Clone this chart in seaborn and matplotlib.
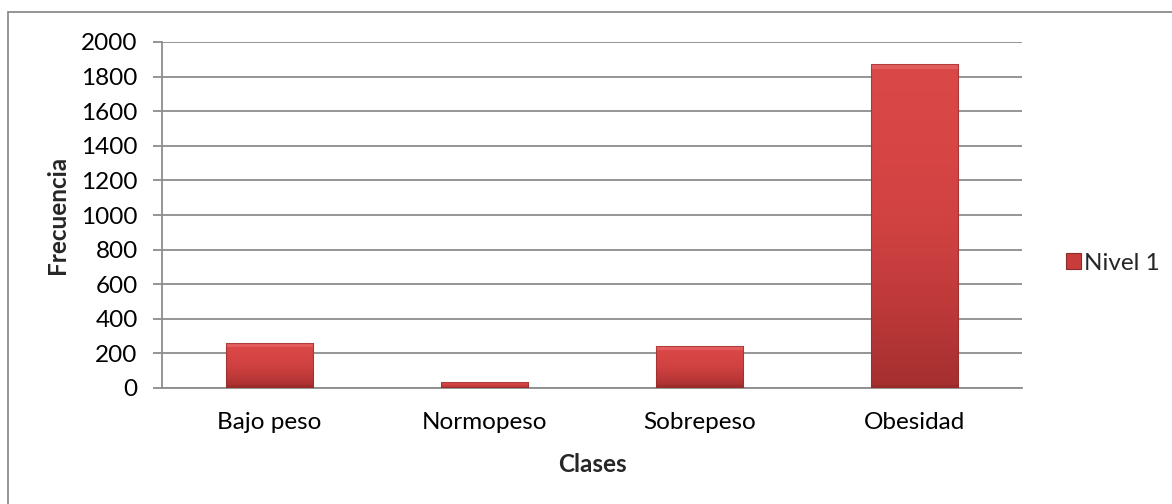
import numpy as np
import pandas as pd
import matplotlib
matplotlib.use("Agg")
import matplotlib.pyplot as plt
import seaborn as sns
from matplotlib.patches import Rectangle
from matplotlib.colors import LinearSegmentedColormap

clases = ["Bajo peso", "Normopeso", "Sobrepeso", "Obesidad"]
frecuencia = [260, 33, 245, 1870]
serie = "Nivel 1"
y_ticks = [0, 200, 400, 600, 800, 1000, 1200, 1400, 1600, 1800, 2000]

sns.set_theme(style="white")
plt.rcParams["font.family"] = ["Lato", "DejaVu Sans"]

FS = 17.5

df = pd.DataFrame({"Clases": clases, "Frecuencia": frecuencia, "serie": serie})

fig = plt.figure(figsize=(11.72, 5.04), dpi=100)
ax = fig.add_axes([162 / 1172, 1 - 388 / 504, 860 / 1172, 346 / 504])

sns.barplot(data=df, x="Clases", y="Frecuencia", hue="serie",
            palette=["#D04040"], width=0.405, ax=ax, zorder=3,
            linewidth=0, legend=False)

# Shaded fill for each bar: brighter body near the top, darker at the base
cmap = LinearSegmentedColormap.from_list(
    "bevel", ["#A52F2F", "#BE3939", "#D04242", "#D84545", "#DA4848"])
grad = np.linspace(0, 1, 256).reshape(-1, 1)
for p in ax.patches:
    x0, y0 = p.get_x(), p.get_y()
    w, h = p.get_width(), p.get_height()
    p.set_facecolor("none")
    im = ax.imshow(grad, aspect="auto", cmap=cmap, origin="lower",
                   extent=[x0, x0 + w, y0, y0 + h], zorder=3)
    clip = Rectangle((x0, y0), w, h, transform=ax.transData)
    im.set_clip_path(clip)
    # thin lighter bevel at the top
    band = min(h * 0.2, 25)
    ax.add_patch(Rectangle((x0, y0 + h - band), w, band,
                           facecolor="#F27A7A", alpha=0.45, lw=0, zorder=4))
    # dark bevel at the base
    band_b = min(h * 0.15, 18)
    ax.add_patch(Rectangle((x0, y0), w, band_b,
                           facecolor="#7A2020", alpha=0.25, lw=0, zorder=4))
    # soft outline
    ax.add_patch(Rectangle((x0, y0), w, h, facecolor="none",
                           edgecolor="#8E2A2A", lw=0.8, alpha=0.6, zorder=5))

ax.set_xlim(-0.5, 3.5)
ax.set_ylim(0, 2000)
ax.set_yticks(y_ticks)
ax.set_yticklabels([str(v) for v in y_ticks])
ax.yaxis.grid(True, color="#8C8C8C", lw=1.3, zorder=0)
ax.set_axisbelow(True)

for s in ["top", "right"]:
    ax.spines[s].set_visible(False)
for s in ["left", "bottom"]:
    ax.spines[s].set_color("#8C8C8C")
    ax.spines[s].set_linewidth(1.3)

ax.tick_params(axis="y", length=6.5, width=1.3, color="#8C8C8C",
               labelsize=FS, labelcolor="black", pad=11, left=True)
ax.tick_params(axis="x", length=0, labelsize=FS, labelcolor="black", pad=17)

ax.set_xlabel("Clases", fontsize=FS, fontweight="bold", labelpad=15)
ax.set_ylabel("Frecuencia", fontsize=FS, fontweight="bold", labelpad=9)

# Legend entry
handle = Rectangle((0, 0), 1, 1, facecolor="#C83C3C", edgecolor="#8E2A2A", lw=0.8)
leg = fig.legend([handle], [serie], loc="center left",
                 bbox_to_anchor=(1054 / 1172, 1 - 263 / 504), frameon=False,
                 fontsize=FS, handlelength=0.6, handleheight=0.6,
                 handletextpad=0.15, borderpad=0)

# Chart area frame
fig.add_artist(Rectangle((8 / 1172, -0.1), 1.2, (1 - 12 / 504) + 0.1,
                         transform=fig.transFigure, facecolor="none",
                         edgecolor="#8C8C8C", lw=1.3))

fig.savefig("out.png", dpi=100)
